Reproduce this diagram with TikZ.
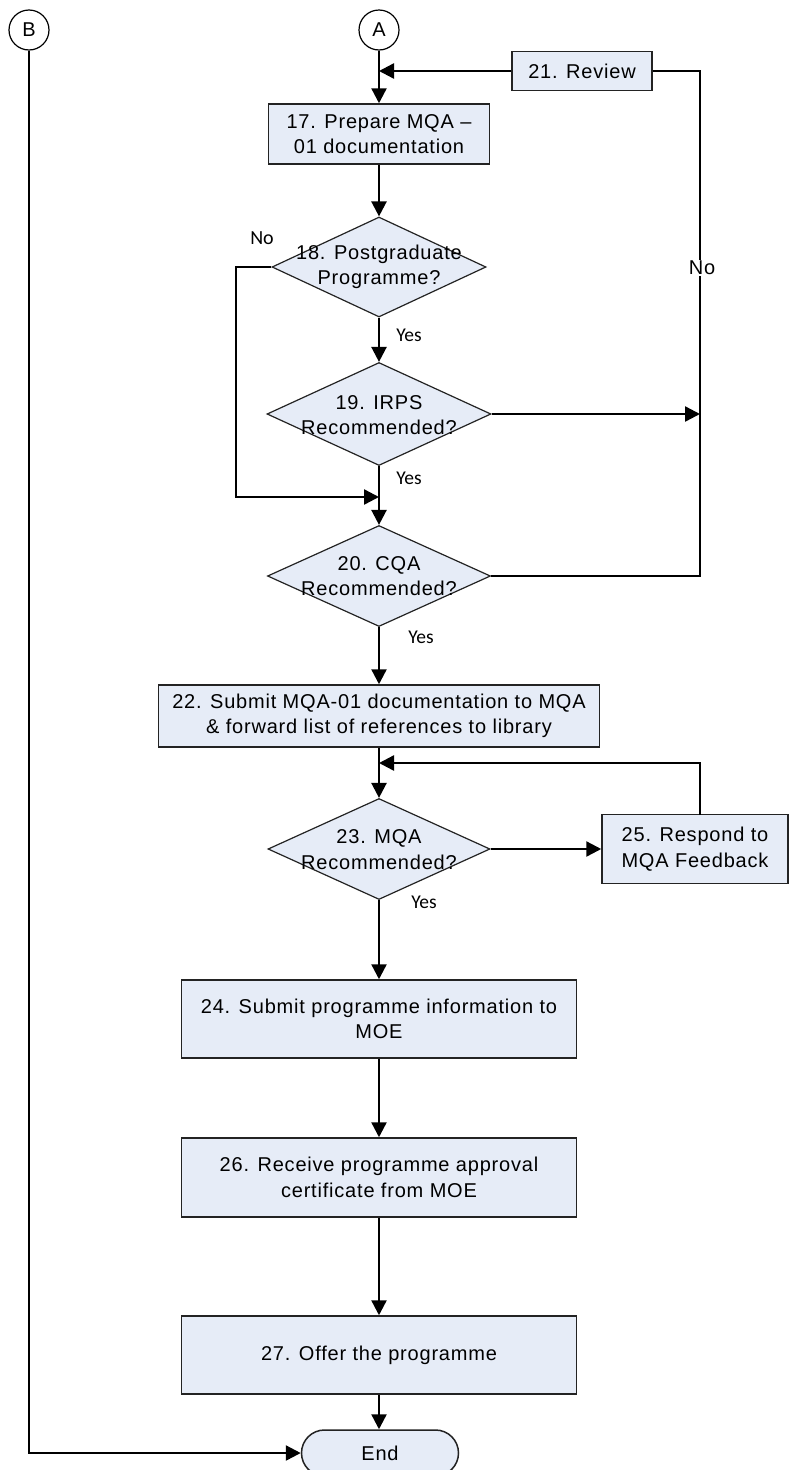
\documentclass[tikz,border=0pt]{standalone}
\usepackage{fontspec}
\setmainfont{Liberation Sans}[LetterSpace=4]
\newfontfamily\calfont{Carlito}
\usetikzlibrary{shapes.geometric,arrows.meta}
\definecolor{boxfill}{RGB}{230,236,247}
\definecolor{edgecol}{RGB}{35,35,35}
\begin{document}
\begin{tikzpicture}[x=1pt,y=-1pt,
  txt/.style={font=\fontsize{20}{25.5}\selectfont, align=center, inner sep=0pt},
  proc/.style={txt, draw=edgecol, line width=1.5pt, fill=boxfill},
  dec/.style={diamond, draw=edgecol, line width=1.2pt, fill=boxfill, inner sep=0pt},
  circ/.style={circle, draw=black, line width=1.2pt, fill=white, minimum size=40pt, inner sep=0pt, font=\fontsize{20}{24}\selectfont},
  conn/.style={draw=black, line width=2.4pt, line join=miter},
  arr/.style={conn, -{Triangle[length=15pt,width=15pt]}},
  lbl/.style={font=\calfont\fontsize{19.5}{22}\selectfont, inner sep=0pt}
]
\useasboundingbox (0,0) rectangle (789,1470);
\fill[white] (0,0) rectangle (789,1470);

% connectors B and A
\node[circ] (B) at (29,30) {B};
\node[circ] (A) at (379,30) {A};

% boxes
\node[proc, minimum width=140pt, minimum height=39pt] (r21) at (582,71) {21. Review};
\node[proc, minimum width=221pt, minimum height=60pt] (p17) at (379,134) {17. Prepare MQA --\\01 documentation};

\node[dec, minimum width=214pt, minimum height=100pt] (d18) at (379,267) {};
\node[txt] (d18t) at (379,267) {18. Postgraduate\\Programme?};
\node[dec, minimum width=224pt, minimum height=103pt] (d19) at (379,414) {};
\node[txt] (d19t) at (379,415) {19. IRPS\\Recommended?};
\node[dec, minimum width=223pt, minimum height=101pt] (d20) at (379,576) {};
\node[txt] (d20t) at (379,576) {20. CQA\\Recommended?};

\node[proc, minimum width=441pt, minimum height=62pt] (p22) at (379,716) {22. Submit MQA-01 documentation to MQA\\\& forward list of references to library};

\node[dec, minimum width=222pt, minimum height=101pt] (d23) at (379,849) {};
\node[txt] (d23t) at (379,849.5) {23. MQA\\Recommended?};

\node[proc, minimum width=186pt, minimum height=69pt] (p25) at (695,849) {25. Respond to\\MQA Feedback};

\node[proc, minimum width=395pt, minimum height=78pt] (p24) at (379,1019) {24. Submit programme information to\\MOE};
\node[proc, minimum width=395pt, minimum height=79pt] (p26) at (379,1177.5) {26. Receive programme approval\\certificate from MOE};
\node[proc, minimum width=395pt, minimum height=78pt] (p27) at (379,1355) {27. Offer the programme};

\node[proc, rounded corners=23pt, minimum width=157pt, minimum height=46pt] (endn) at (380,1453) {End};

% helper coordinates
\coordinate (j1) at (379,71);
\coordinate (rt) at (700,71);
\coordinate (rb) at (700,576);
\coordinate (ri) at (700,414);
\coordinate (lt) at (236,267);
\coordinate (lb) at (236,497);
\coordinate (j2) at (379,497);
\coordinate (j3) at (379,763);
\coordinate (fb) at (700,814.5);
\coordinate (bb) at (29,1453);

% connectors
\draw[arr] (A.south) -- (p17.north);
\draw[arr] (r21.west) -- (j1);
\draw[conn] (r21.east) -- (rt) -- (rb) -- (d20.east);
\draw[arr] (p17.south) -- (d18.north);
\draw[arr] (d18.south) -- (d19.north);
\draw[arr] (d18.west) -- (lt) -- (lb) -- (j2);
\draw[arr] (d19.south) -- (d20.north);
\draw[arr] (d19.east) -- (ri);
\draw[arr] (d20.south) -- (p22.north);
\draw[arr] (p22.south) -- (d23.north);
\draw[arr] (fb) -- (fb |- j3) -- (j3);
\draw[arr] (d23.east) -- (p25.west);
\draw[arr] (d23.south) -- (p24.north);
\draw[arr] (p24.south) -- (p26.north);
\draw[arr] (p26.south) -- (p27.north);
\draw[arr] (p27.south) -- (p27.south |- endn.north);
\draw[arr] (B.south) -- (bb) -- (endn.west);

% labels
\node[fill=white, inner sep=1pt, font=\fontsize{20}{24}\selectfont] (noR) at (702,268) {No};
\node[lbl, font=\calfont\fontsize{20}{22}\selectfont] (noL) at (262,238) {No};
\node[lbl] (y1) at (409,335) {Yes};
\node[lbl] (y2) at (409,478) {Yes};
\node[lbl] (y3) at (421,637) {Yes};
\node[lbl] (y4) at (424,902) {Yes};
\end{tikzpicture}
\end{document}
